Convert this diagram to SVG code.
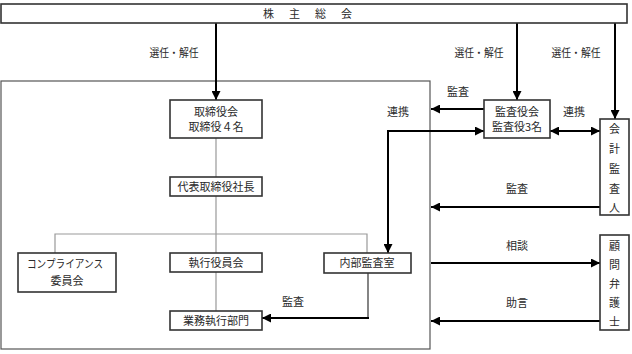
<svg xmlns="http://www.w3.org/2000/svg" width="632" height="354" viewBox="0 0 632 354">
<defs>
<marker id="ah" viewBox="0 0 10 10" refX="10" refY="5" markerWidth="9" markerHeight="9" markerUnits="userSpaceOnUse" orient="auto-start-reverse">
<path d="M0,0 L10,5 L0,10 z" fill="#000"/>
</marker>
<style>
text{font-family:"Noto Sans CJK JP","Noto Sans CJK SC",sans-serif;font-size:11px;fill:#2a2a2a;text-anchor:middle}
.box{fill:#fff;stroke:#333;stroke-width:1.6}
.frame{fill:none;stroke:#555;stroke-width:1.2}
.grey{fill:none;stroke:#999;stroke-width:1.2}
.thin{fill:none;stroke:#333;stroke-width:1.2}
.arr{fill:none;stroke:#000;stroke-width:2}
.ae{marker-end:url(#ah)}
.ab{marker-start:url(#ah);marker-end:url(#ah)}
</style>
</defs>
<rect class="frame" x="1" y="81" width="429" height="268"/>
<g id="connectors">
<path class="grey" d="M216,138V177M216,196V253M55,253V234H367V253M216,272V311"/>
<path class="thin" d="M368,273V318"/>
<path class="arr ae" d="M369,318H262"/>
<path class="arr ae" d="M216,23V100"/>
<path class="arr ae" d="M517,23V100"/>
<path class="arr ae" d="M615,23V119"/>
<path class="arr ae" d="M484,109H431"/>
<path class="arr ab" d="M388,253V131H484"/>
<path class="arr ab" d="M550,131H600"/>
<path class="arr ae" d="M600,207H431"/>
<path class="arr ae" d="M431,263H600"/>
<path class="arr ae" d="M600,321H431"/>
<text x="174" y="57" textLength="49" lengthAdjust="spacingAndGlyphs">選任・解任</text>
<text x="479" y="57" textLength="49" lengthAdjust="spacingAndGlyphs">選任・解任</text>
<text x="576" y="57" textLength="49" lengthAdjust="spacingAndGlyphs">選任・解任</text>
<text x="458" y="96">監査</text>
<text x="398" y="116">連携</text>
<text x="574" y="116">連携</text>
<text x="517" y="193">監査</text>
<text x="517" y="250">相談</text>
<text x="517" y="307">助言</text>
<text x="293" y="306">監査</text>
</g>
<g id="shareholders">
<rect class="box" x="1" y="4" width="626" height="19"/>
<text x="263" y="18" style="text-anchor:start;letter-spacing:2px">株　主　総　会</text>
</g>
<g id="board">
<rect class="box" x="170" y="100" width="92" height="38"/>
<text x="216" y="116">取締役会</text>
<text x="216" y="131">取締役４名</text>
</g>
<g id="president">
<rect class="box" x="170" y="177" width="92" height="19"/>
<text x="216" y="191">代表取締役社長</text>
</g>
<g id="compliance">
<rect class="box" x="18" y="253" width="98" height="39"/>
<text x="65" y="268" textLength="76" lengthAdjust="spacingAndGlyphs">コンプライアンス</text>
<text x="67" y="285">委員会</text>
</g>
<g id="executive">
<rect class="box" x="170" y="253" width="92" height="19"/>
<text x="216" y="267">執行役員会</text>
</g>
<g id="operations">
<rect class="box" x="170" y="311" width="92" height="19"/>
<text x="216" y="325">業務執行部門</text>
</g>
<g id="internal-audit">
<rect class="box" x="324" y="253" width="87" height="20"/>
<text x="367" y="267">内部監査室</text>
</g>
<g id="auditors">
<rect class="box" x="484" y="100" width="66" height="38"/>
<text x="517" y="116">監査役会</text>
<text x="517" y="131">監査役3名</text>
</g>
<g id="accounting-auditor">
<rect class="box" x="600" y="119" width="29" height="96"/>
<text><tspan x="614.5" y="133">会</tspan><tspan x="614.5" y="153">計</tspan><tspan x="614.5" y="173">監</tspan><tspan x="614.5" y="193">査</tspan><tspan x="614.5" y="212">人</tspan></text>
</g>
<g id="lawyer">
<rect class="box" x="600" y="235" width="29" height="95"/>
<text><tspan x="614.5" y="250">顧</tspan><tspan x="614.5" y="269">問</tspan><tspan x="614.5" y="288">弁</tspan><tspan x="614.5" y="307">護</tspan><tspan x="614.5" y="326">士</tspan></text>
</g>
</svg>
